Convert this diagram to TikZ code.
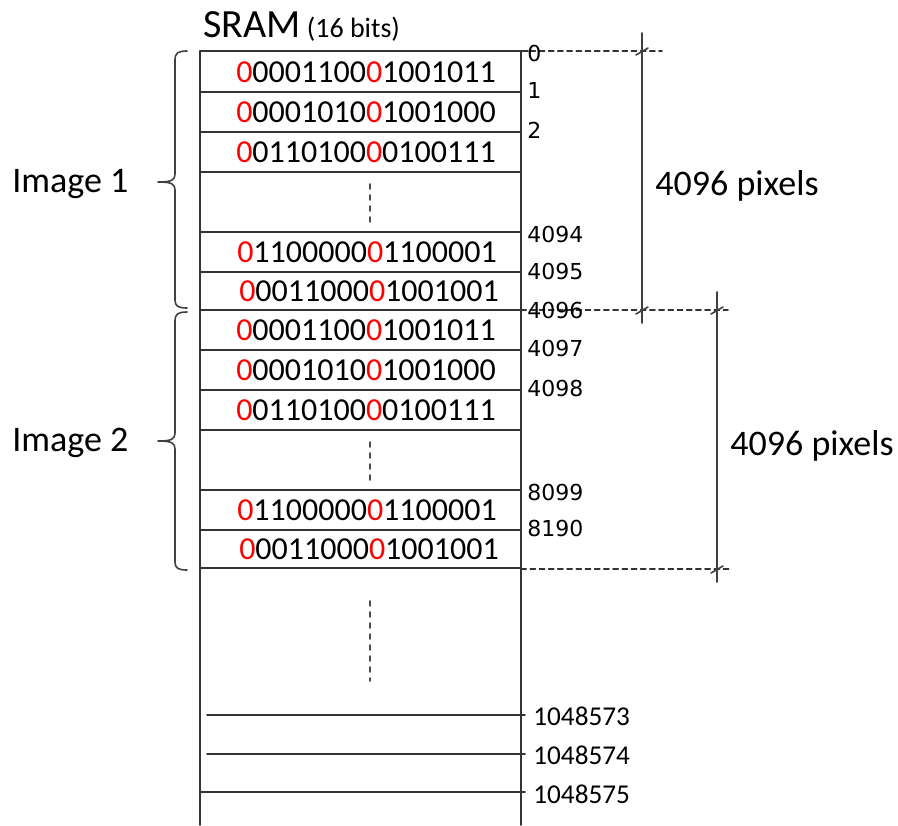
\documentclass[tikz,border=0pt]{standalone}
\usepackage{fontspec}
\setmainfont{Carlito}
\newfontfamily\addrfont{DejaVu Sans}
\usetikzlibrary{positioning}
\newcommand{\memword}[2]{\textcolor{red}{0}#1\textcolor{red}{0}#2}
\tikzset{
  cell/.style={line width=0.9pt,draw=black!80},
  dimline/.style={line width=0.8pt,draw=black!75},
  guide/.style={line width=0.8pt,draw=black!80,dash pattern=on 2.6pt off 2pt},
  gap/.style={line width=0.9pt,draw=black!70,dash pattern=on 2.5pt off 3pt},
  bits/.style={font=\fontsize{16}{19}\selectfont,inner sep=0pt},
  addr/.style={font=\addrfont\fontsize{11}{13}\selectfont,anchor=west,inner sep=0pt},
  bigaddr/.style={font=\fontsize{13.6}{16}\selectfont,anchor=west,inner sep=0pt},
  biglabel/.style={font=\fontsize{18}{22}\selectfont,inner sep=0pt},
}
\begin{document}
\begin{tikzpicture}[x=0.5pt,y=-0.5pt,line cap=round,line join=round]
  \useasboundingbox (0,0) rectangle (898,825);
  % title
  \node[anchor=base west,inner sep=0pt] (title) at (203,37)
    {{\fontsize{20}{24}\selectfont SRAM}\hspace{3pt}{\fontsize{14}{16}\selectfont(16 bits)}};
  % memory column
  \draw[cell] (200,825) -- (200,51) -- (528,51);
  \draw[cell] (521,51) -- (521,825);
  \foreach \y in {92,132,172,232,272,350,390,430,490,530,568}
    \draw[cell] (200,\y) -- (521,\y);
  \draw[cell] (200,310) -- (525,310);
  \draw[cell] (207,715) -- (525,715);
  \draw[cell] (207,754) -- (525,754);
  \draw[cell] (200,792) -- (525,792);
  % skipped rows
  \draw[gap] (370,184) -- (370,223);
  \draw[gap] (370,442) -- (370,481);
  \draw[gap] (370,601) -- (370,681);
  % stored words
  \node[bits] (w0) at (366,72) {\memword{0001100}{1001011}};
  \node[bits] (w1) at (366,112) {\memword{0001010}{1001000}};
  \node[bits] (w2) at (366,152) {\memword{0110100}{0100111}};
  \node[bits] (w4094) at (367,252) {\memword{1100000}{1100001}};
  \node[bits] (w4095) at (369,291) {\memword{0011000}{1001001}};
  \node[bits] (w4096) at (366,330) {\memword{0001100}{1001011}};
  \node[bits] (w4097) at (366,370) {\memword{0001010}{1001000}};
  \node[bits] (w4098) at (366,410) {\memword{0110100}{0100111}};
  \node[bits] (w8189) at (367,510) {\memword{1100000}{1100001}};
  \node[bits] (w8190) at (369,549) {\memword{0011000}{1001001}};
  % dimension guides
  \draw[guide] (521,51) -- (662,51);
  \draw[guide] (521,310) -- (728,310);
  \draw[guide] (521,569) -- (730,569);
  \draw[dimline] (642,33) -- (642,323);
  \draw[dimline] (717,292) -- (717,582);
  \draw[dimline] (636,55) -- (648,48);
  \draw[dimline] (636,314) -- (648,307);
  \draw[dimline] (711,314) -- (723,307);
  \draw[dimline] (711,573) -- (723,566);
  % addresses
  \node[addr] (a0) at (527,53) {0};
  \node[addr] (a1) at (527,90) {1};
  \node[addr] (a2) at (527,130) {2};
  \node[addr] (a4094) at (527,234) {4094};
  \node[addr] (a4095) at (527,271) {4095};
  \node[addr] (a4096) at (527,310) {4096};
  \node[addr] (a4097) at (527,348) {4097};
  \node[addr] (a4098) at (527,388) {4098};
  \node[addr] (a8099) at (527,492) {8099};
  \node[addr] (a8190) at (527,528) {8190};
  \node[bigaddr] (a1048573) at (533,716) {1048573};
  \node[bigaddr] (a1048574) at (533,755) {1048574};
  \node[bigaddr] (a1048575) at (533,794) {1048575};
  % sizes
  \node[biglabel] (px1) at (737,186) {4096 pixels};
  \node[biglabel] (px2) at (812,446) {4096 pixels};
  % image braces
  \draw[dimline] (187,51) .. controls (178,51) and (175,53) .. (175,60) -- (175,174)
    .. controls (175,180) and (172,182) .. (158,182)
    .. controls (172,182) and (175,184) .. (175,190) -- (175,300)
    .. controls (175,306) and (178,308) .. (187,308);
  \draw[dimline] (187,312) .. controls (178,312) and (175,314) .. (175,321) -- (175,433)
    .. controls (175,439) and (172,441) .. (158,441)
    .. controls (172,441) and (175,443) .. (175,449) -- (175,562)
    .. controls (175,568) and (178,570) .. (187,570);
  \node[biglabel,anchor=west] (img1) at (12,184) {Image 1};
  \node[biglabel,anchor=west] (img2) at (12,443) {Image 2};
\end{tikzpicture}
\end{document}
